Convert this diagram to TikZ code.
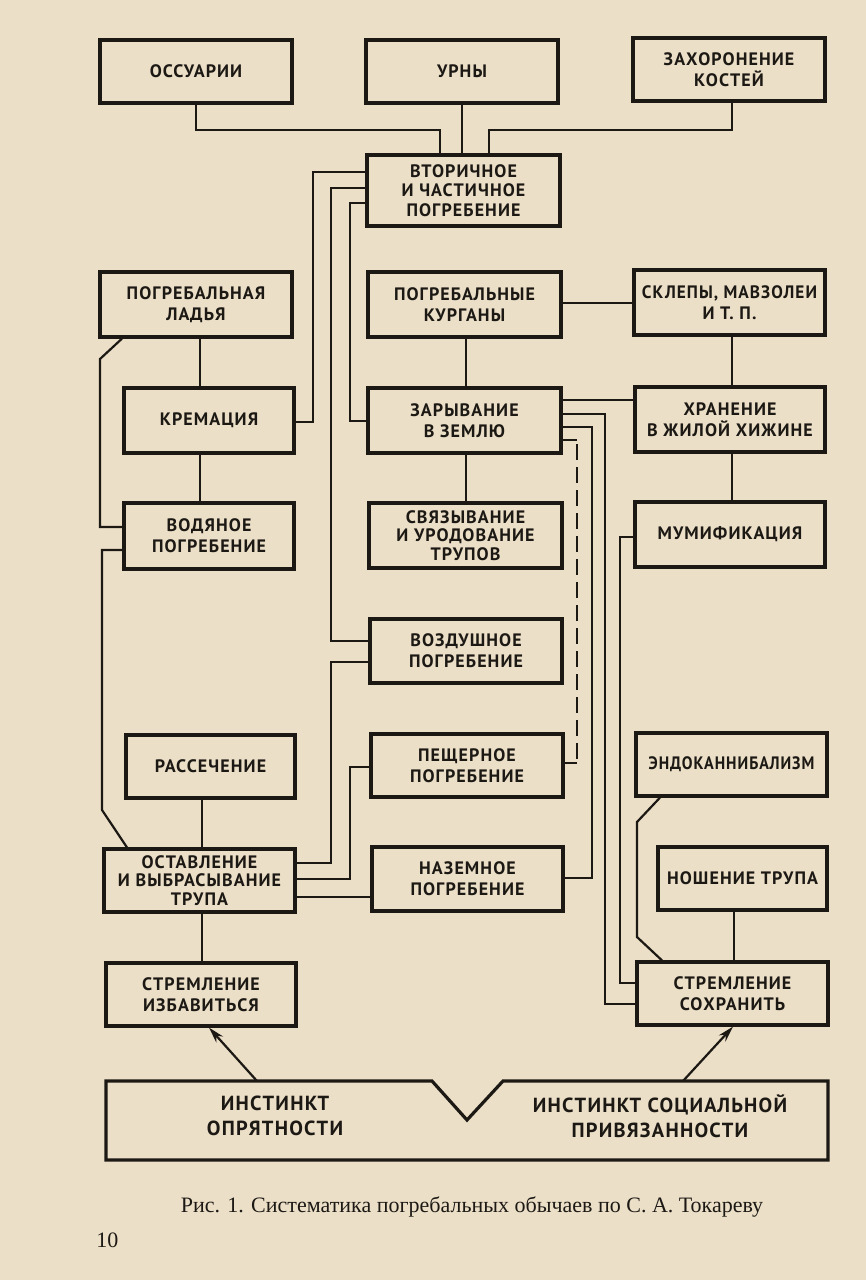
\documentclass[tikz,border=0pt]{standalone}
\usepackage{fontspec}
\usepackage{graphicx}
\setmainfont{Liberation Serif}
\newfontfamily\lblfont[LetterSpace=6.0]{PT Sans}
\usetikzlibrary{arrows.meta}
\definecolor{paper}{HTML}{ECDFC7}
\definecolor{ink}{HTML}{1C1915}
\tikzset{
  box/.style={draw=ink, line width=1.6pt, fill=paper, text=ink, align=center, inner sep=0pt,
    font=\lblfont\bfseries\fontsize{9.0}{10.6}\selectfont},
  conn/.style={draw=ink, line width=1.1pt},
  instxt/.style={text=ink, align=center, inner sep=0pt,
    font=\lblfont\bfseries\fontsize{10.2}{12.6}\selectfont},
  captxt/.style={text=ink, inner sep=0pt, font=\fontsize{11}{13}\selectfont},
}
\newcommand\mybox[6]{\node[box, minimum width={(#4-#2)*0.5pt}, minimum height={(#5-#3)*0.5pt}] (#1) at ({(#2+#4)/2},{(#3+#5)/2}) {#6};}
\begin{document}
\begin{tikzpicture}[x=0.5pt, y=-0.5pt]
\useasboundingbox[fill=paper] (0,0) rectangle (866,1280);
% boxes
\mybox{oss}{100}{40}{292}{103}{ОССУАРИИ}
\mybox{urn}{366}{40}{558}{103}{УРНЫ}
\mybox{zah}{633}{38}{825}{101}{ЗАХОРОНЕНИЕ\\КОСТЕЙ}
\mybox{vt}{367}{155}{560}{226}{ВТОРИЧНОЕ\\[-1pt]И ЧАСТИЧНОЕ\\[-1pt]ПОГРЕБЕНИЕ}
\mybox{lad}{100}{272}{292}{337}{ПОГРЕБАЛЬНАЯ\\ЛАДЬЯ}
\mybox{kur}{368}{272}{561}{337}{ПОГРЕБАЛЬНЫЕ\\КУРГАНЫ}
\mybox{skl}{634}{270}{825}{335}{\scalebox{0.96}[1]{СКЛЕПЫ, МАВЗОЛЕИ}\\И Т. П.}
\mybox{kre}{124}{388}{294}{453}{КРЕМАЦИЯ}
\mybox{zar}{368}{388}{561}{453}{ЗАРЫВАНИЕ\\В ЗЕМЛЮ}
\mybox{khr}{635}{387}{825}{452}{ХРАНЕНИЕ\\В ЖИЛОЙ ХИЖИНЕ}
\mybox{vod}{124}{503}{294}{569}{ВОДЯНОЕ\\ПОГРЕБЕНИЕ}
\mybox{svy}{369}{503}{562}{568}{СВЯЗЫВАНИЕ\\[-1.3pt]И УРОДОВАНИЕ\\[-1.3pt]ТРУПОВ}
\mybox{mum}{635}{502}{825}{567}{МУМИФИКАЦИЯ}
\mybox{voz}{370}{619}{562}{683}{ВОЗДУШНОЕ\\ПОГРЕБЕНИЕ}
\mybox{ras}{126}{735}{295}{798}{РАССЕЧЕНИЕ}
\mybox{pes}{371}{734}{563}{797}{ПЕЩЕРНОЕ\\ПОГРЕБЕНИЕ}
\mybox{end}{636}{733}{827}{796}{\scalebox{0.89}[1]{ЭНДОКАННИБАЛИЗМ}}
\mybox{ost}{104}{849}{295}{912}{ОСТАВЛЕНИЕ\\[-1.3pt]И ВЫБРАСЫВАНИЕ\\[-1.3pt]ТРУПА}
\mybox{naz}{372}{847}{563}{911}{НАЗЕМНОЕ\\ПОГРЕБЕНИЕ}
\mybox{nos}{658}{847}{827}{910}{НОШЕНИЕ ТРУПА}
\mybox{izb}{106}{963}{296}{1026}{СТРЕМЛЕНИЕ\\ИЗБАВИТЬСЯ}
\mybox{sok}{637}{962}{828}{1025}{СТРЕМЛЕНИЕ\\СОХРАНИТЬ}
% instinct box with notch
\draw[draw=ink, line width=1.6pt, line join=miter] (106,1081) -- (432,1081) -- (467,1120) -- (503,1081) -- (828,1081) -- (828,1160) -- (106,1160) -- cycle;
\node[instxt] (io) at (275,1116) {ИНСТИНКТ\\ОПРЯТНОСТИ};
\node[instxt] (is) at (660,1116) {ИНСТИНКТ СОЦИАЛЬНОЙ\\ПРИВЯЗАННОСТИ};
\coordinate (ioa) at (257,1081);
\coordinate (isa) at (683,1081);
% top connectors
\draw[conn] (oss.south) |- (440,130) -- (440,130 |- vt.north);
\draw[conn] (urn.south) -- (urn.south |- vt.north);
\draw[conn] (zah.south -| 732,0) |- (489,130) -- (489,130 |- vt.north);
% from secondary burial
\draw[conn] (vt.west |- 0,172) -| (313,422) -- (kre.east |- 0,422);
\draw[conn] (vt.west |- 0,188) -| (331,641) -- (voz.west |- 0,641);
\draw[conn] (vt.west |- 0,203) -| (350,421) -- (zar.west |- 0,421);
% left column
\draw[conn] (lad.south -| 200,0) -- (kre.north -| 200,0);
\draw[conn] (kre.south -| 200,0) -- (vod.north -| 200,0);
\draw[conn] (lad.south -| 122,0) -- (100,359) |- (vod.west |- 0,527);
\draw[conn] (vod.west |- 0,550) -| (102,810) -- (ost.north -| 127,0);
\draw[conn] (ras.south -| 202,0) -- (ost.north -| 202,0);
\draw[conn] (ost.south -| 202,0) -- (izb.north -| 202,0);
% from abandonment
\draw[conn] (ost.east |- 0,863) -| (331,662) -- (voz.west |- 0,662);
\draw[conn] (ost.east |- 0,879) -| (350,767) -- (pes.west |- 0,767);
\draw[conn] (ost.east |- 0,897) -- (naz.west |- 0,897);
% middle column
\draw[conn] (kur.south -| 466,0) -- (zar.north -| 466,0);
\draw[conn] (zar.south -| 466,0) -- (svy.north -| 466,0);
\draw[conn] (kur.east |- 0,303) -- (skl.west |- 0,303);
% from inhumation
\draw[conn] (zar.east |- 0,400) -- (khr.west |- 0,400);
\draw[conn] (zar.east |- 0,414) -| (605,1004) -- (sok.west |- 0,1004);
\draw[conn] (zar.east |- 0,427) -| (592,878) -- (naz.east |- 0,878);
\coordinate (d1) at (577,440);
\coordinate (d2) at (577,763);
\draw[conn] (zar.east |- 0,440) -- (d1);
\draw[conn, dash pattern=on 8pt off 3.5pt] (d1) ++(0,4) -- (d2);
\draw[conn] (d2) -- (pes.east |- 0,763);
% right column
\draw[conn] (skl.south -| 732,0) -- (khr.north -| 732,0);
\draw[conn] (khr.south -| 732,0) -- (mum.north -| 732,0);
\draw[conn] (mum.west |- 0,537) -| (620,983) -- (sok.west |- 0,983);
\draw[conn] (end.south -| 660,0) -- (637,822) -- (637,937) -- (sok.north -| 662,0);
\draw[conn] (nos.south -| 734,0) -- (sok.north -| 734,0);
% arrows from instincts
\draw[conn, -{Stealth[length=8pt, width=4.5pt]}] (ioa) -- (izb.south -| 209,0);
\draw[conn, -{Stealth[length=8pt, width=4.5pt]}] (isa) -- (sok.south -| 733,0);
% caption
\node[captxt] (cap) at (472,1207) {Рис. 1. Систематика погребальных обычаев по С.~А.~Токареву};
\node[captxt, anchor=west] (pg) at (96,1240) {10};
\end{tikzpicture}
\end{document}
